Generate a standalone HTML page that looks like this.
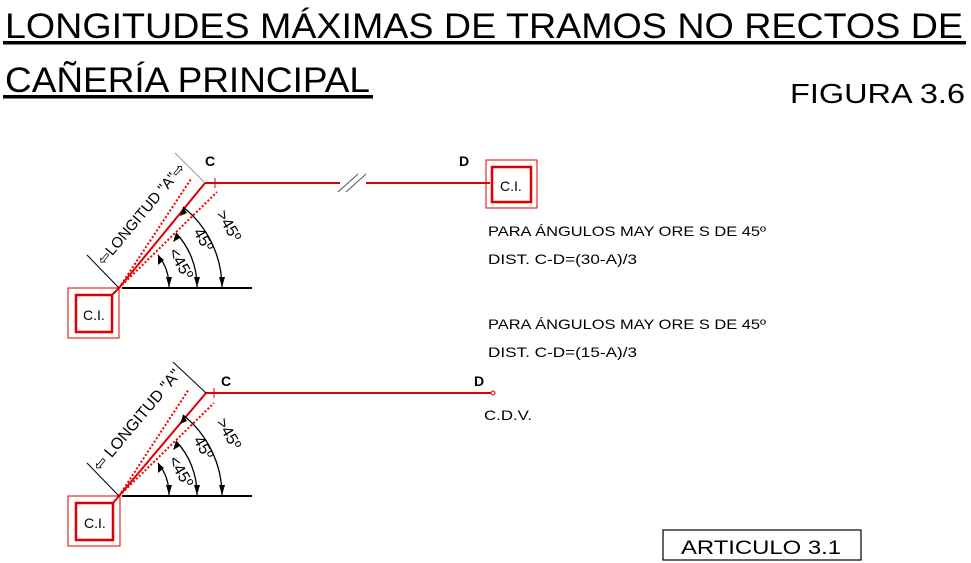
<!DOCTYPE html>
<html><head><meta charset="utf-8"><style>html,body{margin:0;padding:0;background:#fff}svg{display:block}</style></head>
<body>
<svg width="971" height="563" viewBox="0 0 971 563" xmlns="http://www.w3.org/2000/svg" font-family="Liberation Sans, sans-serif">
<text x="5" y="38" font-size="35" textLength="958" lengthAdjust="spacingAndGlyphs">LONGITUDES MÁXIMAS DE TRAMOS NO RECTOS DE</text>
<rect x="3" y="41" width="963" height="3.5" fill="#000"/>
<text x="5" y="92" font-size="35" textLength="365" lengthAdjust="spacingAndGlyphs">CAÑERÍA PRINCIPAL</text>
<rect x="3" y="95" width="370" height="3.5" fill="#000"/>
<text x="790" y="103" font-size="28" textLength="175" lengthAdjust="spacingAndGlyphs">FIGURA 3.6</text>

<g>
<line x1="122" y1="288" x2="252" y2="288" stroke="#000" stroke-width="2"/>
<rect x="68" y="288" width="51" height="50" fill="none" stroke="#d00" stroke-width="1"/>
<rect x="76" y="295" width="36" height="37" fill="none" stroke="#d00" stroke-width="2.5"/>
<text x="83" y="320" font-size="14">C.I.</text>
<polyline points="112,295 119,288 205,183 490,183" fill="none" stroke="#d00" stroke-width="2"/>
<line x1="215" y1="178" x2="215" y2="188" stroke="#d00" stroke-width="1"/>
<line x1="119" y1="288" x2="191" y2="179" stroke="#e00" stroke-width="2" stroke-dasharray="2,2"/>
<line x1="119" y1="288" x2="217" y2="192" stroke="#e00" stroke-width="2" stroke-dasharray="2,2"/>
<rect x="340" y="178" width="26" height="10" fill="#fff"/>
<line x1="338" y1="192" x2="358" y2="174" stroke="#555" stroke-width="1"/>
<line x1="346" y1="192" x2="366" y2="174" stroke="#555" stroke-width="1"/>
<rect x="486" y="160" width="51" height="48" fill="none" stroke="#d00" stroke-width="1"/>
<rect x="492" y="167" width="39" height="35" fill="none" stroke="#d00" stroke-width="2.5"/>
<text x="500" y="191" font-size="14">C.I.</text>
<text x="205" y="166" font-size="14" font-weight="bold">C</text>
<text x="459" y="166" font-size="14" font-weight="bold">D</text>
<path d="M158,255 A50,50 0 0 1 169,287" fill="none" stroke="#000" stroke-width="1.3"/>
<path d="M176,233 A78,78 0 0 1 197,287" fill="none" stroke="#000" stroke-width="1.3"/>
<path d="M183,207 A103,103 0 0 1 222,287" fill="none" stroke="#000" stroke-width="1.3"/>
<polygon points="169,287 166,277 172,277" fill="#000"/>
<polygon points="197,287 194,277 200,277" fill="#000"/>
<polygon points="222,287 219,277 225,277" fill="#000"/>
<polygon points="158,255 158,265 164,260" fill="#000"/>
<polygon points="176,233 173,242 180,238" fill="#000"/>
<polygon points="183,207 180,216 187,213" fill="#000"/>
<text transform="translate(168,252) rotate(60)" font-size="16">&lt;45º</text>
<text transform="translate(193,232) rotate(60)" font-size="16">45º</text>
<text transform="translate(216,214) rotate(60)" font-size="16">&gt;45º</text>
<line x1="119" y1="288" x2="87" y2="255" stroke="#000" stroke-width="1"/>
<line x1="205" y1="183" x2="175" y2="153" stroke="#999" stroke-width="1"/>
<text transform="translate(104,266) rotate(-50)" font-size="15">⇦LONGITUD "A"⇨</text>
</g>

<g font-size="14">
<text x="488" y="236" textLength="278" lengthAdjust="spacingAndGlyphs">PARA ÁNGULOS MAY ORE S DE 45º</text>
<text x="488" y="264" textLength="149" lengthAdjust="spacingAndGlyphs">DIST. C-D=(30-A)/3</text>
<text x="488" y="329" textLength="278" lengthAdjust="spacingAndGlyphs">PARA ÁNGULOS MAY ORE S DE 45º</text>
<text x="488" y="357" textLength="149" lengthAdjust="spacingAndGlyphs">DIST. C-D=(15-A)/3</text>
<text x="474" y="386" font-weight="bold">D</text>
<text x="484" y="420" textLength="48" lengthAdjust="spacingAndGlyphs">C.D.V.</text>
</g>

<g>
<line x1="122" y1="496" x2="252" y2="496" stroke="#000" stroke-width="2"/>
<rect x="68" y="496" width="52" height="50" fill="none" stroke="#d00" stroke-width="1"/>
<rect x="76" y="503" width="37" height="37" fill="none" stroke="#d00" stroke-width="2.5"/>
<text x="84" y="528" font-size="14">C.I.</text>
<polyline points="113,503 119,496 206,393 491,393" fill="none" stroke="#d00" stroke-width="2"/>
<circle cx="493" cy="393" r="2" fill="#fff" stroke="#d00" stroke-width="1"/>
<line x1="214" y1="388" x2="214" y2="398" stroke="#d00" stroke-width="1"/>
<line x1="119" y1="496" x2="189" y2="389" stroke="#e00" stroke-width="2" stroke-dasharray="2,2"/>
<line x1="119" y1="496" x2="214" y2="403" stroke="#e00" stroke-width="2" stroke-dasharray="2,2"/>
<text x="221" y="386" font-size="14" font-weight="bold">C</text>
<path d="M158,463 A50,50 0 0 1 169,495" fill="none" stroke="#000" stroke-width="1.3"/>
<path d="M176,441 A78,78 0 0 1 197,495" fill="none" stroke="#000" stroke-width="1.3"/>
<path d="M183,415 A103,103 0 0 1 222,495" fill="none" stroke="#000" stroke-width="1.3"/>
<polygon points="169,495 166,485 172,485" fill="#000"/>
<polygon points="197,495 194,485 200,485" fill="#000"/>
<polygon points="222,495 219,485 225,485" fill="#000"/>
<polygon points="158,463 158,473 164,468" fill="#000"/>
<polygon points="176,441 173,450 180,446" fill="#000"/>
<polygon points="183,415 180,424 187,421" fill="#000"/>
<text transform="translate(168,460) rotate(60)" font-size="16">&lt;45º</text>
<text transform="translate(193,440) rotate(60)" font-size="16">45º</text>
<text transform="translate(216,422) rotate(60)" font-size="16">&gt;45º</text>
<line x1="119" y1="496" x2="87" y2="463" stroke="#000" stroke-width="1"/>
<line x1="206" y1="393" x2="173" y2="362" stroke="#000" stroke-width="1"/>
<text transform="translate(100,472) rotate(-50)" font-size="16">⇦ LONGITUD "A"</text>
</g>

<rect x="663" y="530" width="198" height="30" fill="none" stroke="#000" stroke-width="1.2"/>
<text x="681" y="554" font-size="19" textLength="160" lengthAdjust="spacingAndGlyphs">ARTICULO 3.1</text>
</svg>
</body></html>
